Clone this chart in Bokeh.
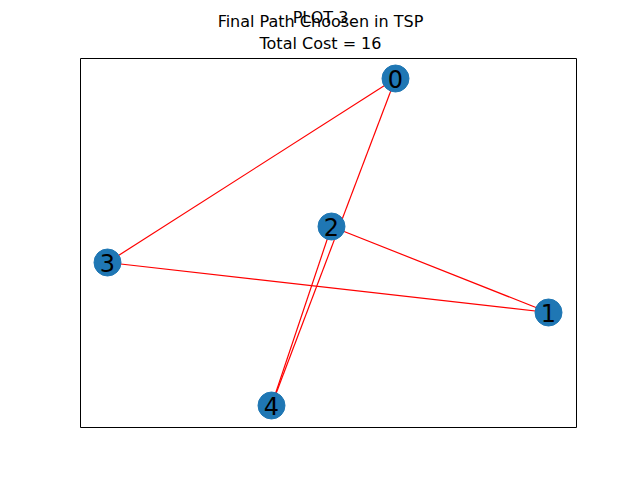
from bokeh.plotting import figure
from bokeh.models import ColumnDataSource, Range1d
from bokeh.core.properties import value
from bokeh.embed import file_html
from bokeh.resources import INLINE

# node layout
nodes = ["0", "1", "2", "3", "4"]
node_x = [395, 548, 331, 107, 271]
node_y = [78, 312, 226, 262, 405]
# final tour edges
edges = [(0, 3), (3, 1), (1, 2), (2, 4), (4, 0)]
total_cost = 16
titles = ["PLOT 3", "Final Path Choosen in TSP", "Total Cost = %d" % total_cost]
title_y = [17, 21, 43]

p = figure(width=624, height=464, output_backend="svg", toolbar_location=None,
           x_range=Range1d(0, 624), y_range=Range1d(464, 0),
           min_border=0)
p.xaxis.visible = False
p.yaxis.visible = False
p.grid.visible = False
p.outline_line_color = None

# axes box
p.quad(left=80, right=576, top=58, bottom=427, fill_color=None, line_color="black", line_width=1)

xs = [[node_x[a], node_x[b]] for a, b in edges]
ys = [[node_y[a], node_y[b]] for a, b in edges]
p.multi_line(xs, ys, line_color="red", line_width=1.2)

src = ColumnDataSource(dict(x=node_x, y=node_y, t=nodes))
p.scatter("x", "y", size=27, fill_color="#1f77b4", line_color="#1f77b4", source=src)
p.text("x", "y", text="t", text_align="center", text_baseline="middle",
       text_font=value("DejaVu Sans"), text_font_size="24px", text_color="black", source=src)

p.text([320] * 3, title_y, text=titles, text_align="center", text_baseline="middle",
       text_font=value("DejaVu Sans"), text_font_size="16px", text_color="black")

open("out.html", "w").write(file_html(p, INLINE))
